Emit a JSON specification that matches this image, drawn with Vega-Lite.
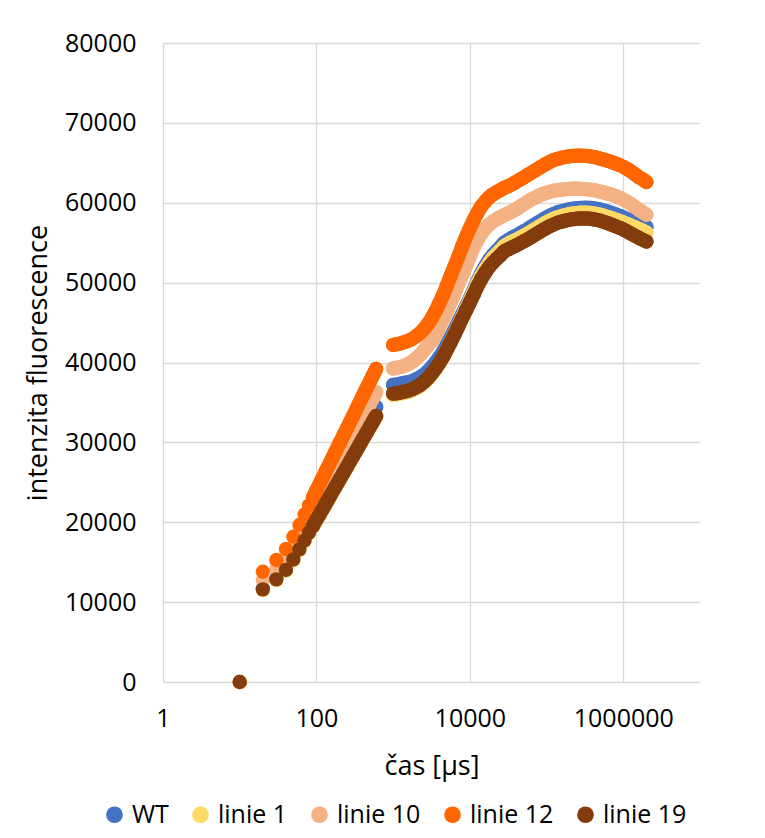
{
  "$schema": "https://vega.github.io/schema/vega-lite/v6.json",
  "width": 537,
  "height": 639,
  "autosize": {"type": "none"},
  "padding": {"left": 163, "top": 43, "right": 65, "bottom": 156},
  "background": "#ffffff",
  "config": {
    "font": "Open Sans",
    "view": {"stroke": null},
    "axis": {
      "grid": true,
      "gridColor": "#d9d9d9",
      "gridWidth": 1.3,
      "domain": false,
      "ticks": false,
      "labelFont": "Open Sans",
      "labelFontSize": 25,
      "labelColor": "#000000",
      "titleFont": "Open Sans",
      "titleFontSize": 27,
      "titleFontWeight": "normal",
      "titleColor": "#000000"
    }
  },
  "encoding": {
    "x": {
      "field": "t",
      "type": "quantitative",
      "scale": {"type": "log", "domain": [1, 10000000], "nice": false},
      "axis": {"values": [1, 100, 10000, 1000000], "format": "d", "labelFlush": false, "labelPadding": 24, "title": "čas [µs]", "titlePadding": 22}
    },
    "y": {
      "field": "v",
      "type": "quantitative",
      "scale": {"domain": [0, 80000], "nice": false},
      "axis": {"values": [0, 10000, 20000, 30000, 40000, 50000, 60000, 70000, 80000], "format": "d", "labelPadding": 27, "title": "intenzita fluorescence", "titlePadding": 12}
    }
  },
  "layer": [
    {
      "data": {"values": [
        {"t":10,"v":0},{"t":20,"v":11700},{"t":30,"v":13010},{"t":40,"v":14250},{"t":50,"v":15620},{"t":60,"v":16940},{"t":70,"v":18110},{"t":80,"v":19130},{"t":90,"v":20020},{"t":100,"v":20840},{"t":110,"v":21540},{"t":120,"v":22200},{"t":130,"v":22810},{"t":140,"v":23380},{"t":150,"v":23910},{"t":175,"v":25070},{"t":200,"v":26090},{"t":225,"v":26970},{"t":250,"v":27770},{"t":275,"v":28500},{"t":300,"v":29160},{"t":325,"v":29770},{"t":350,"v":30340},{"t":375,"v":30860},{"t":400,"v":31360},{"t":425,"v":31820},{"t":450,"v":32250},{"t":475,"v":32660},{"t":500,"v":33040},{"t":525,"v":33410},{"t":550,"v":33770},{"t":575,"v":34110},{"t":600,"v":34430},
        {"t":1000,"v":37200},{"t":1120,"v":37250},{"t":1250,"v":37350},{"t":1400,"v":37450},{"t":1600,"v":37550},{"t":1800,"v":37700},{"t":2000,"v":37900},{"t":2250,"v":38150},{"t":2500,"v":38450},{"t":2800,"v":38850},{"t":3200,"v":39450},{"t":3600,"v":40050},{"t":4000,"v":40650},{"t":4500,"v":41400},{"t":5000,"v":42200},{"t":5600,"v":43100},{"t":6300,"v":44050},{"t":7100,"v":45100},{"t":8000,"v":46100},{"t":9000,"v":47100},{"t":10000,"v":48000},{"t":11200,"v":49050},{"t":12500,"v":50100},{"t":14000,"v":51100},{"t":16000,"v":52100},{"t":18000,"v":52900},{"t":20000,"v":53450},{"t":22500,"v":54000},{"t":25000,"v":54450},{"t":28000,"v":55000},{"t":32000,"v":55350},{"t":36000,"v":55650},{"t":40000,"v":55850},{"t":45000,"v":56150},{"t":50000,"v":56400},{"t":56000,"v":56650},{"t":63000,"v":57000},{"t":71000,"v":57300},{"t":80000,"v":57600},{"t":90000,"v":57900},{"t":100000,"v":58150},{"t":112000,"v":58400},{"t":125000,"v":58600},{"t":140000,"v":58800},{"t":160000,"v":58950},{"t":180000,"v":59080},{"t":200000,"v":59180},{"t":225000,"v":59250},{"t":250000,"v":59320},{"t":280000,"v":59360},{"t":320000,"v":59370},{"t":360000,"v":59350},{"t":400000,"v":59320},{"t":450000,"v":59230},{"t":500000,"v":59150},{"t":560000,"v":59020},{"t":630000,"v":58870},{"t":710000,"v":58710},{"t":800000,"v":58530},{"t":900000,"v":58350},{"t":1000000,"v":58150},{"t":1120000,"v":57950},{"t":1250000,"v":57750},{"t":1400000,"v":57550},{"t":1600000,"v":57300},{"t":1800000,"v":57100},{"t":2000000,"v":56950}
      ]},
      "encoding": {
        "color": {
          "datum": "WT",
          "type": "nominal",
          "scale": {"domain": ["WT", "linie 1", "linie 10", "linie 12", "linie 19"], "range": ["#4472C4", "#FFD966", "#F4B183", "#FF6600", "#843C0C"]},
          "legend": {"title": null, "orient": "none", "direction": "horizontal", "legendX": -61, "legendY": 759, "padding": 0, "symbolType": "circle", "symbolSize": 280, "symbolStrokeWidth": 0, "symbolOpacity": 1, "labelFont": "Open Sans", "labelFontSize": 25, "labelColor": "#000000", "labelOffset": 5, "columnPadding": 19}
        }
      },
      "layer": [
        {"mark": {"type": "circle", "size": 205, "opacity": 1}},
        {"transform": [{"filter": "datum.t >= 90 && datum.t <= 600"}], "mark": {"type": "line", "strokeWidth": 14.3, "strokeCap": "round", "strokeJoin": "round", "interpolate": "monotone"}},
        {"transform": [{"filter": "datum.t >= 1000"}], "mark": {"type": "line", "strokeWidth": 14.3, "strokeCap": "round", "strokeJoin": "round", "interpolate": "monotone"}}
      ]
    },
    {
      "data": {"values": [
        {"t":10,"v":0},{"t":20,"v":11500},{"t":30,"v":12750},{"t":40,"v":13930},{"t":50,"v":15240},{"t":60,"v":16500},{"t":70,"v":17620},{"t":80,"v":18600},{"t":90,"v":19440},{"t":100,"v":20220},{"t":110,"v":20900},{"t":120,"v":21530},{"t":130,"v":22110},{"t":140,"v":22650},{"t":150,"v":23150},{"t":175,"v":24260},{"t":200,"v":25240},{"t":225,"v":26080},{"t":250,"v":26840},{"t":275,"v":27540},{"t":300,"v":28170},{"t":325,"v":28750},{"t":350,"v":29290},{"t":375,"v":29790},{"t":400,"v":30270},{"t":425,"v":30700},{"t":450,"v":31120},{"t":475,"v":31510},{"t":500,"v":31880},{"t":525,"v":32220},{"t":550,"v":32570},{"t":575,"v":32900},{"t":600,"v":33200},
        {"t":1000,"v":35950},{"t":1120,"v":36000},{"t":1250,"v":36100},{"t":1400,"v":36200},{"t":1600,"v":36350},{"t":1800,"v":36550},{"t":2000,"v":36750},{"t":2250,"v":37050},{"t":2500,"v":37400},{"t":2800,"v":37870},{"t":3200,"v":38530},{"t":3600,"v":39200},{"t":4000,"v":39870},{"t":4500,"v":40700},{"t":5000,"v":41600},{"t":5600,"v":42550},{"t":6300,"v":43600},{"t":7100,"v":44700},{"t":8000,"v":45800},{"t":9000,"v":46850},{"t":10000,"v":47800},{"t":11200,"v":48850},{"t":12500,"v":49900},{"t":14000,"v":50850},{"t":16000,"v":51750},{"t":18000,"v":52500},{"t":20000,"v":53100},{"t":22500,"v":53620},{"t":25000,"v":54050},{"t":28000,"v":54580},{"t":32000,"v":54900},{"t":36000,"v":55150},{"t":40000,"v":55350},{"t":45000,"v":55600},{"t":50000,"v":55850},{"t":56000,"v":56100},{"t":63000,"v":56400},{"t":71000,"v":56700},{"t":80000,"v":57000},{"t":90000,"v":57300},{"t":100000,"v":57550},{"t":112000,"v":57800},{"t":125000,"v":58000},{"t":140000,"v":58200},{"t":160000,"v":58350},{"t":180000,"v":58490},{"t":200000,"v":58590},{"t":225000,"v":58660},{"t":250000,"v":58710},{"t":280000,"v":58750},{"t":320000,"v":58750},{"t":360000,"v":58730},{"t":400000,"v":58690},{"t":450000,"v":58600},{"t":500000,"v":58500},{"t":560000,"v":58370},{"t":630000,"v":58220},{"t":710000,"v":58060},{"t":800000,"v":57880},{"t":900000,"v":57700},{"t":1000000,"v":57550},{"t":1120000,"v":57350},{"t":1250000,"v":57150},{"t":1400000,"v":56950},{"t":1600000,"v":56700},{"t":1800000,"v":56500},{"t":2000000,"v":56250}
      ]},
      "encoding": {"color": {"datum": "linie 1", "type": "nominal"}},
      "layer": [
        {"mark": {"type": "circle", "size": 205, "opacity": 1}},
        {"transform": [{"filter": "datum.t >= 90 && datum.t <= 600"}], "mark": {"type": "line", "strokeWidth": 14.3, "strokeCap": "round", "strokeJoin": "round", "interpolate": "monotone"}},
        {"transform": [{"filter": "datum.t >= 1000"}], "mark": {"type": "line", "strokeWidth": 14.3, "strokeCap": "round", "strokeJoin": "round", "interpolate": "monotone"}}
      ]
    },
    {
      "data": {"values": [
        {"t":10,"v":0},{"t":20,"v":12770},{"t":30,"v":14120},{"t":40,"v":15410},{"t":50,"v":16830},{"t":60,"v":18190},{"t":70,"v":19410},{"t":80,"v":20460},{"t":90,"v":21380},{"t":100,"v":22230},{"t":110,"v":22960},{"t":120,"v":23640},{"t":130,"v":24280},{"t":140,"v":24860},{"t":150,"v":25410},{"t":175,"v":26610},{"t":200,"v":27660},{"t":225,"v":28580},{"t":250,"v":29410},{"t":275,"v":30160},{"t":300,"v":30840},{"t":325,"v":31480},{"t":350,"v":32060},{"t":375,"v":32610},{"t":400,"v":33120},{"t":425,"v":33590},{"t":450,"v":34040},{"t":475,"v":34460},{"t":500,"v":34860},{"t":525,"v":35240},{"t":550,"v":35620},{"t":575,"v":35970},{"t":600,"v":36300},
        {"t":1000,"v":39250},{"t":1120,"v":39350},{"t":1250,"v":39450},{"t":1400,"v":39600},{"t":1600,"v":39850},{"t":1800,"v":40150},{"t":2000,"v":40500},{"t":2250,"v":40950},{"t":2500,"v":41450},{"t":2800,"v":42050},{"t":3200,"v":42700},{"t":3600,"v":43500},{"t":4000,"v":44400},{"t":4500,"v":45450},{"t":5000,"v":46400},{"t":5600,"v":47500},{"t":6300,"v":48650},{"t":7100,"v":49850},{"t":8000,"v":51000},{"t":9000,"v":52200},{"t":10000,"v":53300},{"t":11200,"v":54400},{"t":12500,"v":55300},{"t":14000,"v":56100},{"t":16000,"v":56800},{"t":18000,"v":57300},{"t":20000,"v":57650},{"t":22500,"v":57950},{"t":25000,"v":58200},{"t":28000,"v":58450},{"t":32000,"v":58700},{"t":36000,"v":58950},{"t":40000,"v":59200},{"t":45000,"v":59500},{"t":50000,"v":59800},{"t":56000,"v":60100},{"t":63000,"v":60400},{"t":71000,"v":60650},{"t":80000,"v":60900},{"t":90000,"v":61100},{"t":100000,"v":61250},{"t":112000,"v":61400},{"t":125000,"v":61500},{"t":140000,"v":61580},{"t":160000,"v":61650},{"t":180000,"v":61700},{"t":200000,"v":61730},{"t":225000,"v":61750},{"t":250000,"v":61750},{"t":280000,"v":61730},{"t":320000,"v":61700},{"t":360000,"v":61650},{"t":400000,"v":61600},{"t":450000,"v":61500},{"t":500000,"v":61400},{"t":560000,"v":61280},{"t":630000,"v":61150},{"t":710000,"v":61000},{"t":800000,"v":60820},{"t":900000,"v":60620},{"t":1000000,"v":60400},{"t":1120000,"v":60150},{"t":1250000,"v":59850},{"t":1400000,"v":59500},{"t":1600000,"v":59100},{"t":1800000,"v":58800},{"t":2000000,"v":58500}
      ]},
      "encoding": {"color": {"datum": "linie 10", "type": "nominal"}},
      "layer": [
        {"mark": {"type": "circle", "size": 205, "opacity": 1}},
        {"transform": [{"filter": "datum.t >= 90 && datum.t <= 600"}], "mark": {"type": "line", "strokeWidth": 14.3, "strokeCap": "round", "strokeJoin": "round", "interpolate": "monotone"}},
        {"transform": [{"filter": "datum.t >= 1000"}], "mark": {"type": "line", "strokeWidth": 14.3, "strokeCap": "round", "strokeJoin": "round", "interpolate": "monotone"}}
      ]
    },
    {
      "data": {"values": [
        {"t":10,"v":0},{"t":20,"v":13810},{"t":30,"v":15270},{"t":40,"v":16650},{"t":50,"v":18190},{"t":60,"v":19660},{"t":70,"v":20970},{"t":80,"v":22110},{"t":90,"v":23100},{"t":100,"v":24020},{"t":110,"v":24800},{"t":120,"v":25540},{"t":130,"v":26230},{"t":140,"v":26860},{"t":150,"v":27440},{"t":175,"v":28740},{"t":200,"v":29880},{"t":225,"v":30870},{"t":250,"v":31760},{"t":275,"v":32570},{"t":300,"v":33310},{"t":325,"v":33990},{"t":350,"v":34630},{"t":375,"v":35210},{"t":400,"v":35770},{"t":425,"v":36280},{"t":450,"v":36760},{"t":475,"v":37220},{"t":500,"v":37650},{"t":525,"v":38060},{"t":550,"v":38460},{"t":575,"v":38840},{"t":600,"v":39200},
        {"t":1000,"v":42200},{"t":1120,"v":42300},{"t":1250,"v":42400},{"t":1400,"v":42550},{"t":1600,"v":42750},{"t":1800,"v":43000},{"t":2000,"v":43300},{"t":2250,"v":43700},{"t":2500,"v":44150},{"t":2800,"v":44750},{"t":3200,"v":45600},{"t":3600,"v":46500},{"t":4000,"v":47400},{"t":4500,"v":48500},{"t":5000,"v":49600},{"t":5600,"v":50800},{"t":6300,"v":52000},{"t":7100,"v":53300},{"t":8000,"v":54600},{"t":9000,"v":55800},{"t":10000,"v":56800},{"t":11200,"v":57800},{"t":12500,"v":58700},{"t":14000,"v":59500},{"t":16000,"v":60200},{"t":18000,"v":60700},{"t":20000,"v":61050},{"t":22500,"v":61350},{"t":25000,"v":61600},{"t":28000,"v":61850},{"t":32000,"v":62100},{"t":36000,"v":62350},{"t":40000,"v":62600},{"t":45000,"v":62900},{"t":50000,"v":63150},{"t":56000,"v":63450},{"t":63000,"v":63750},{"t":71000,"v":64050},{"t":80000,"v":64350},{"t":90000,"v":64650},{"t":100000,"v":64900},{"t":112000,"v":65150},{"t":125000,"v":65350},{"t":140000,"v":65500},{"t":160000,"v":65650},{"t":180000,"v":65750},{"t":200000,"v":65820},{"t":225000,"v":65870},{"t":250000,"v":65900},{"t":280000,"v":65900},{"t":320000,"v":65870},{"t":360000,"v":65820},{"t":400000,"v":65750},{"t":450000,"v":65650},{"t":500000,"v":65530},{"t":560000,"v":65400},{"t":630000,"v":65250},{"t":710000,"v":65080},{"t":800000,"v":64900},{"t":900000,"v":64700},{"t":1000000,"v":64500},{"t":1120000,"v":64250},{"t":1250000,"v":63950},{"t":1400000,"v":63600},{"t":1600000,"v":63200},{"t":1800000,"v":62900},{"t":2000000,"v":62600}
      ]},
      "encoding": {"color": {"datum": "linie 12", "type": "nominal"}},
      "layer": [
        {"mark": {"type": "circle", "size": 205, "opacity": 1}},
        {"transform": [{"filter": "datum.t >= 90 && datum.t <= 600"}], "mark": {"type": "line", "strokeWidth": 14.3, "strokeCap": "round", "strokeJoin": "round", "interpolate": "monotone"}},
        {"transform": [{"filter": "datum.t >= 1000"}], "mark": {"type": "line", "strokeWidth": 14.3, "strokeCap": "round", "strokeJoin": "round", "interpolate": "monotone"}}
      ]
    },
    {
      "data": {"values": [
        {"t":10,"v":0},{"t":20,"v":11600},{"t":30,"v":12850},{"t":40,"v":14030},{"t":50,"v":15340},{"t":60,"v":16600},{"t":70,"v":17720},{"t":80,"v":18700},{"t":90,"v":19540},{"t":100,"v":20320},{"t":110,"v":21000},{"t":120,"v":21630},{"t":130,"v":22210},{"t":140,"v":22750},{"t":150,"v":23250},{"t":175,"v":24360},{"t":200,"v":25340},{"t":225,"v":26180},{"t":250,"v":26940},{"t":275,"v":27640},{"t":300,"v":28270},{"t":325,"v":28850},{"t":350,"v":29390},{"t":375,"v":29890},{"t":400,"v":30370},{"t":425,"v":30800},{"t":450,"v":31220},{"t":475,"v":31610},{"t":500,"v":31980},{"t":525,"v":32320},{"t":550,"v":32670},{"t":575,"v":33000},{"t":600,"v":33300},
        {"t":1000,"v":36100},{"t":1120,"v":36150},{"t":1250,"v":36250},{"t":1400,"v":36350},{"t":1600,"v":36500},{"t":1800,"v":36700},{"t":2000,"v":36900},{"t":2250,"v":37200},{"t":2500,"v":37550},{"t":2800,"v":38000},{"t":3200,"v":38650},{"t":3600,"v":39300},{"t":4000,"v":39950},{"t":4500,"v":40750},{"t":5000,"v":41600},{"t":5600,"v":42500},{"t":6300,"v":43500},{"t":7100,"v":44550},{"t":8000,"v":45600},{"t":9000,"v":46600},{"t":10000,"v":47500},{"t":11200,"v":48500},{"t":12500,"v":49500},{"t":14000,"v":50400},{"t":16000,"v":51300},{"t":18000,"v":52000},{"t":20000,"v":52500},{"t":22500,"v":53000},{"t":25000,"v":53400},{"t":28000,"v":53900},{"t":32000,"v":54200},{"t":36000,"v":54450},{"t":40000,"v":54650},{"t":45000,"v":54900},{"t":50000,"v":55150},{"t":56000,"v":55400},{"t":63000,"v":55700},{"t":71000,"v":56000},{"t":80000,"v":56300},{"t":90000,"v":56600},{"t":100000,"v":56850},{"t":112000,"v":57100},{"t":125000,"v":57300},{"t":140000,"v":57500},{"t":160000,"v":57650},{"t":180000,"v":57780},{"t":200000,"v":57880},{"t":225000,"v":57950},{"t":250000,"v":58000},{"t":280000,"v":58030},{"t":320000,"v":58030},{"t":360000,"v":58000},{"t":400000,"v":57950},{"t":450000,"v":57850},{"t":500000,"v":57750},{"t":560000,"v":57600},{"t":630000,"v":57430},{"t":710000,"v":57250},{"t":800000,"v":57050},{"t":900000,"v":56850},{"t":1000000,"v":56650},{"t":1120000,"v":56400},{"t":1250000,"v":56150},{"t":1400000,"v":55900},{"t":1600000,"v":55600},{"t":1800000,"v":55350},{"t":2000000,"v":55150}
      ]},
      "encoding": {"color": {"datum": "linie 19", "type": "nominal"}},
      "layer": [
        {"mark": {"type": "circle", "size": 205, "opacity": 1}},
        {"transform": [{"filter": "datum.t >= 90 && datum.t <= 600"}], "mark": {"type": "line", "strokeWidth": 14.3, "strokeCap": "round", "strokeJoin": "round", "interpolate": "monotone"}},
        {"transform": [{"filter": "datum.t >= 1000"}], "mark": {"type": "line", "strokeWidth": 14.3, "strokeCap": "round", "strokeJoin": "round", "interpolate": "monotone"}}
      ]
    }
  ]
}
